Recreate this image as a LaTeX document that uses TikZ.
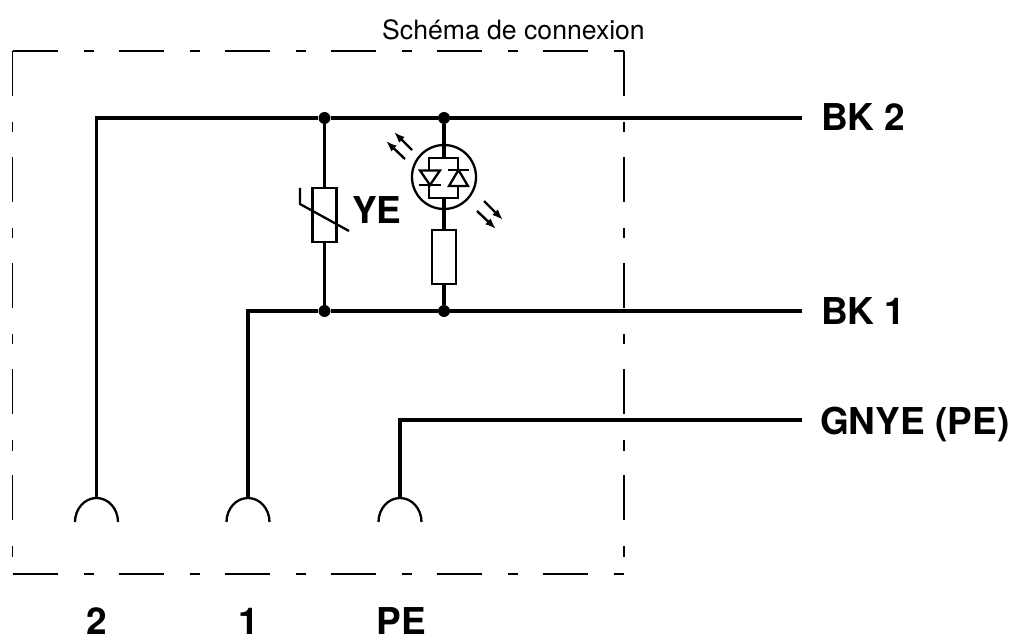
\documentclass[tikz,border=0pt]{standalone}
\usepackage{fontspec}
\setmainfont{TeX Gyre Heros}
\usetikzlibrary{arrows,arrows.meta,positioning,calc}
\tikzset{
  frameline/.style={line width=1.3pt,dash pattern=on 45pt off 26pt on 10.5pt off 24.5pt},
  wire/.style={line width=3.4pt},
  part/.style={line width=2.3pt},
  partbox/.style={draw,line width=2.3pt,fill=white,minimum width=24pt,minimum height=54pt,inner sep=0pt},
  dotnode/.style={circle,fill=black,minimum size=12pt,inner sep=0pt},
  pinlabel/.style={font=\fontsize{37}{37}\selectfont\bfseries,inner sep=0pt},
  lightarrow/.style={line width=2.4pt,-{Latex[length=11pt,width=8pt]}}
}
\begin{document}
\begin{tikzpicture}[x=1pt,y=-1pt]
\useasboundingbox (0,0) rectangle (1015,636);
% draw title
\node[font=\fontsize{26.6}{26.6}\selectfont,anchor=base,inner sep=0pt] (title) at (513.5,39.5) {Schéma de connexion};
% draw dash-dotted frame
\coordinate (fa) at (12.5,51);
\coordinate (fb) at (624,51);
\coordinate (fc) at (12.5,574);
\coordinate (fd) at (624,574);
\draw[frameline] (fa) -- (fb);
\draw[frameline] (fc) -- (fd);
\draw[frameline] (fa) -- (fc);
\draw[frameline] (fb) -- (fd);
% draw junctions
\node[dotnode] (j1) at (324.5,118) {};
\node[dotnode] (j2) at (444,118) {};
\node[dotnode] (j3) at (324.5,311) {};
\node[dotnode] (j4) at (444,311) {};
% draw wire ends
\coordinate (p2) at (96.5,498);
\coordinate (p1) at (248,498);
\coordinate (p3) at (400,498);
\coordinate (e2) at (802,118);
\coordinate (e1) at (802,311);
\coordinate (e3) at (802,420);
\draw[wire] (p2) |- (j1) -- (j2) -- (e2);
\draw[wire] (p1) |- (j3) -- (j4) -- (e1);
\draw[wire] (p3) |- (e3);
% draw contacts
\foreach \c in {p1,p2,p3}
\draw[part] ($(\c)+(-21.5,24)$) arc (180:360:21.5 and 24);
% draw varistor
\node[partbox] (var) at (324.5,215) {};
\draw[wire] (j1) -- (var);
\draw[wire] (var) -- (j3);
\coordinate (va) at (300,188);
\coordinate (vb) at (300,204);
\coordinate (vc) at (349,231);
\draw[part] (va) -- (vb) -- (vc);
% draw led branch
\node[partbox] (res) at (444,257) {};
\node[draw,circle,line width=2.3pt,minimum size=64pt,inner sep=0pt] (led) at (444,177) {};
\coordinate (la) at (444,158);
\coordinate (lb) at (444,198);
\draw[wire] (j2) -- (la);
\draw[wire] (lb) -- (res);
\draw[wire] (res) -- (j4);
\draw[part] (429,158) rectangle (458,198);
% draw diodes
\draw[part,fill=white] (420,170.5) -- (440,170.5) -- (430,185) -- cycle;
\draw[part] (419,185) -- (441,185);
\draw[part,fill=white] (449,186) -- (468,186) -- (458.5,170) -- cycle;
\draw[part] (448,170) -- (469,170);
% draw light arrows
\draw[lightarrow] (412,150) -- (394,132);
\draw[lightarrow] (405,159) -- (386,141);
\draw[lightarrow] (484,201) -- (503,220);
\draw[lightarrow] (477,211) -- (496,229);
% draw labels
\node[pinlabel,anchor=base west] (ye) at (352,224) {YE};
\node[pinlabel,anchor=base west] (bk2) at (821,131) {BK 2};
\node[pinlabel,anchor=base west] (bk1) at (821,325) {BK 1};
\node[pinlabel,anchor=base west] (gnye) at (820,434) {GNYE (PE)};
\node[pinlabel,anchor=base] (l2) at (97,634) {2};
\node[pinlabel,anchor=base] (l1) at (249,634) {1};
\node[pinlabel,anchor=base] (lpe) at (401,634) {PE};
\end{tikzpicture}
\end{document}
